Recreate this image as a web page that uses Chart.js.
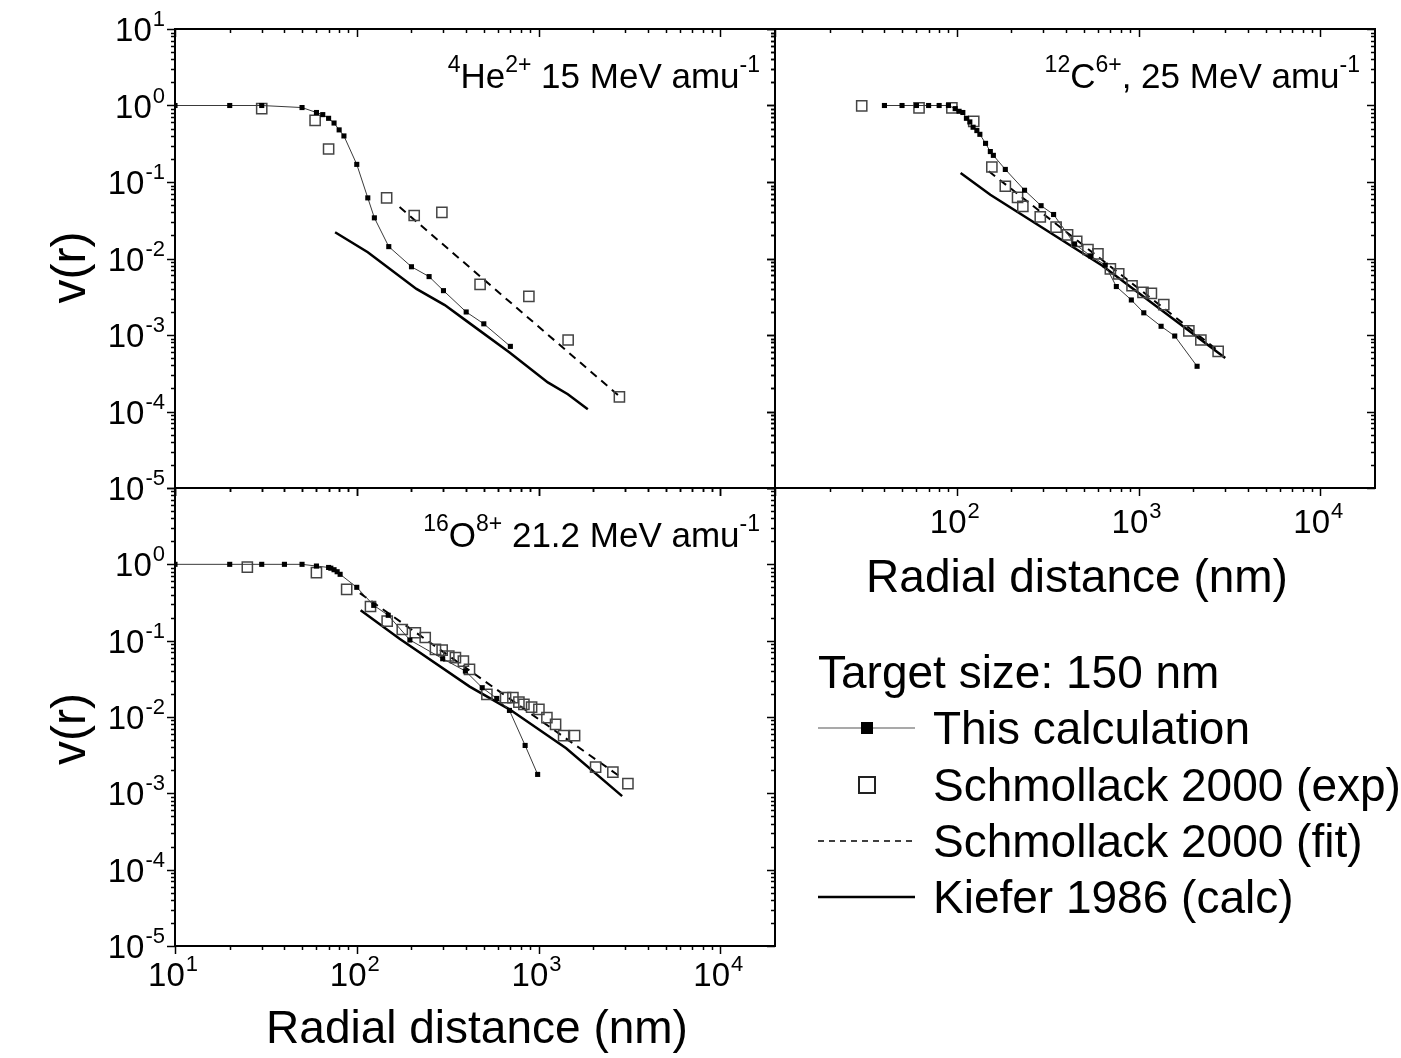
<!DOCTYPE html>
<html>
<head>
<meta charset="utf-8">
<script src="https://cdn.jsdelivr.net/npm/chart.js@4.4.1/dist/chart.umd.min.js"></script>
<style>
  body { margin: 0; background: #fff; }
  #wrap { position: relative; width: 1401px; height: 1058px; }
  #wrap canvas { position: absolute; left: 0; top: 0; }
</style>
</head>
<body>
<div id="wrap">
  <canvas id="pHe" width="1401" height="1058"></canvas>
  <canvas id="pC" width="1401" height="1058"></canvas>
  <canvas id="pO" width="1401" height="1058"></canvas>
</div>
<script>
// --- data (x: radial distance in nm, y: v(r)) ---
// 4He2+ 15 MeV/amu
const heCalcX = [10, 20, 30, 50, 60, 65, 70, 75, 80, 85, 100, 115, 125, 150, 200, 250, 300, 400, 500, 700];
const heCalcY = [1, 1, 1, 0.94, 0.81, 0.76, 0.68, 0.59, 0.48, 0.40, 0.17, 0.062, 0.034, 0.0143, 0.0078, 0.0058, 0.0038, 0.0020, 0.0014, 0.00071];
const heExpX = [30, 59, 70, 146, 207, 294, 477, 885, 1455, 2786];
const heExpY = [0.91, 0.64, 0.27, 0.062, 0.0365, 0.040, 0.0046, 0.0032, 0.00086, 0.000155];
const heFitX = [172, 2790];
const heFitY = [0.047, 0.000158];
const heKiefX = [76, 115, 213, 305, 401, 693, 1125, 1450, 1867];
const heKiefY = [0.022, 0.0121, 0.0040, 0.00246, 0.00153, 0.00059, 0.00024, 0.000168, 0.000107];

// 12C6+ 25 MeV/amu
const cCalcX = [40, 50, 60, 70, 80, 90, 98, 103, 108, 113, 118, 123, 129, 134, 144, 153, 159, 185, 236, 291, 341, 445, 545, 656, 755, 913, 1069, 1331, 1582, 2100];
const cCalcY = [1, 1, 1, 1, 1, 1, 0.91, 0.84, 0.81, 0.68, 0.61, 0.52, 0.47, 0.42, 0.32, 0.25, 0.223, 0.146, 0.078, 0.049, 0.0376, 0.0155, 0.0108, 0.0082, 0.0043, 0.00287, 0.00195, 0.0013, 0.00097, 0.00039];
const cExpX = [30, 62, 94, 124, 156, 185, 216, 231, 288, 352, 407, 457, 527, 598, 700, 778, 921, 1058, 1177, 1377, 1892, 2203, 2742];
const cExpY = [0.99, 0.93, 0.93, 0.62, 0.157, 0.088, 0.063, 0.048, 0.035, 0.0257, 0.0204, 0.0167, 0.0131, 0.0115, 0.0073, 0.0063, 0.0044, 0.0036, 0.0035, 0.0025, 0.00113, 0.00086, 0.00061];
const cFitX = [150, 2750];
const cFitY = [0.138, 0.00062];
const cKiefX = [105, 153, 630, 3000];
const cKiefY = [0.131, 0.068, 0.0081, 0.0005];

// 16O8+ 21.2 MeV/amu
const oCalcX = [10, 20, 30, 40, 50, 60, 70, 72, 75, 78, 81, 100, 124, 149, 196, 297, 396, 490, 589, 692, 844, 989];
const oCalcY = [1, 1, 1, 1, 1, 0.95, 0.91, 0.89, 0.85, 0.80, 0.74, 0.50, 0.29, 0.215, 0.102, 0.058, 0.040, 0.0242, 0.0175, 0.0122, 0.00424, 0.00177];
const oExpX = [25, 60, 88, 119, 147, 178, 210, 238, 271, 295, 321, 349, 386, 417, 520, 659, 723, 780, 831, 916, 1005, 1112, 1241, 1374, 1579, 2061, 2565, 3103];
const oExpY = [0.92, 0.78, 0.47, 0.28, 0.18, 0.14, 0.127, 0.11, 0.077, 0.075, 0.063, 0.060, 0.054, 0.042, 0.0198, 0.0179, 0.0179, 0.0157, 0.0146, 0.0135, 0.0126, 0.0098, 0.0080, 0.0057, 0.0057, 0.0022, 0.0019, 0.00134];
const oFitX = [104, 2786];
const oFitY = [0.42, 0.00168];
const oKiefX = [105, 172, 418, 692, 1419, 2884];
const oKiefY = [0.25, 0.106, 0.025, 0.0126, 0.0039, 0.00092];

// axis ranges and decade labels (exponents of 10)
const xMin = 10, xMax = 20000;
const yMin = 1e-5, yMax = 10;
const xDecades = [1, 2, 3, 4];
const yDecades = [1, 0, -1, -2, -3, -4, -5];

const legendTitle = 'Target size: 150 nm';
const seriesNames = ['This calculation', 'Schmollack 2000 (exp)', 'Schmollack 2000 (fit)', 'Kiefer 1986 (calc)'];
const axisTitleX = 'Radial distance (nm)';
const axisTitleY = 'v(r)';

const FONT = '"Liberation Sans", Arial, Helvetica, sans-serif';

function pts(xs, ys) {
  return xs.map((x, i) => ({ x: x, y: ys[i] }));
}

function makeDatasets(cx, cy, ex, ey, fx, fy, kx, ky) {
  return [
    { label: seriesNames[0], data: pts(cx, cy), showLine: true, borderColor: '#3a3a3a', borderWidth: 1,
      pointStyle: 'rect', pointRadius: 3.6, pointBackgroundColor: '#000', pointBorderWidth: 0 },
    { label: seriesNames[1], data: pts(ex, ey), showLine: false, pointStyle: 'rect', pointRadius: 7.2,
      pointBackgroundColor: 'rgba(255,255,255,0)', pointBorderColor: '#444', pointBorderWidth: 1.5 },
    { label: seriesNames[2], data: pts(fx, fy), showLine: true, borderColor: '#000', borderWidth: 2,
      borderDash: [8, 6], pointRadius: 0 },
    { label: seriesNames[3], data: pts(kx, ky), showLine: true, borderColor: '#000', borderWidth: 2.5,
      pointRadius: 0 }
  ];
}

function line(ctx, x1, y1, x2, y2) {
  ctx.beginPath(); ctx.moveTo(x1, y1); ctx.lineTo(x2, y2); ctx.stroke();
}

// "10" with a superscript exponent
function powLabel(ctx, e, x, y, align) {
  ctx.font = '33px ' + FONT;
  const wb = ctx.measureText('10').width;
  ctx.font = '22px ' + FONT;
  const ws = ctx.measureText(String(e)).width;
  const w = wb + 1 + ws;
  const x0 = align === 'right' ? x - w : (align === 'center' ? x - w / 2 - 2 : x);
  ctx.textAlign = 'left';
  ctx.textBaseline = 'alphabetic';
  ctx.font = '33px ' + FONT;
  ctx.fillText('10', x0, y);
  ctx.font = '22px ' + FONT;
  ctx.fillText(String(e), x0 + wb + 1, y - 15);
}

// text with superscript parts, right aligned at xr
function richText(ctx, parts, xr, y) {
  ctx.textAlign = 'left';
  ctx.textBaseline = 'alphabetic';
  let w = 0;
  parts.forEach(p => {
    ctx.font = (p.sup ? '23px ' : '35px ') + FONT;
    p.w = ctx.measureText(p.t).width;
    w += p.w;
  });
  let x = xr - w;
  parts.forEach(p => {
    ctx.font = (p.sup ? '23px ' : '35px ') + FONT;
    ctx.fillText(p.t, x, p.sup ? y - 16 : y);
    x += p.w;
  });
}

const framePlugin = {
  id: 'frame',
  afterDraw(chart, args, o) {
    const ctx = chart.ctx, a = chart.chartArea;
    const xs = chart.scales.x, ys = chart.scales.y;
    ctx.save();
    ctx.fillStyle = '#000';
    ctx.strokeStyle = '#000';
    ctx.lineWidth = 2;
    ctx.strokeRect(a.left, a.top, a.right - a.left, a.bottom - a.top);
    ctx.lineWidth = 1.5;
    // y ticks: out on the left, in on the right
    for (let e = -5; e <= 1; e++) {
      for (let d = 1; d <= 9; d++) {
        const v = d * Math.pow(10, e);
        if (v < yMin * 0.999 || v > yMax * 1.001) continue;
        const py = Math.round(ys.getPixelForValue(v)) + 0.5;
        const len = d === 1 ? 8 : 4;
        line(ctx, a.left - len, py, a.left, py);
        line(ctx, a.right - len, py, a.right, py);
      }
    }
    // x ticks: out at the bottom, in at the top
    for (let e = 1; e <= 4; e++) {
      for (let d = 1; d <= 9; d++) {
        const v = d * Math.pow(10, e);
        if (v < xMin * 0.999 || v > xMax * 0.999) continue;
        const px = Math.round(xs.getPixelForValue(v)) + 0.5;
        const len = d === 1 ? 8 : 4;
        line(ctx, px, a.bottom, px, a.bottom + len);
        line(ctx, px, a.top, px, a.top + len);
      }
    }
    if (o.yLabels) {
      o.yLabels.forEach(e => powLabel(ctx, e, a.left - 10, ys.getPixelForValue(Math.pow(10, e)) + 12, 'right'));
    }
    if (o.xLabels) {
      o.xLabels.forEach(e => powLabel(ctx, e, xs.getPixelForValue(Math.pow(10, e)), a.bottom + o.xLabelOff, 'center'));
    }
    if (o.note) richText(ctx, o.note, a.right - 15, a.top + 59);
    if (o.xTitle) {
      ctx.font = '46px ' + FONT;
      ctx.textAlign = 'center';
      ctx.textBaseline = 'alphabetic';
      ctx.fillText(axisTitleX, (a.left + a.right) / 2 + 2, a.bottom + o.xTitle);
    }
    if (o.yTitle) {
      ctx.save();
      ctx.translate(72, (a.top + a.bottom) / 2 + o.yTitle);
      ctx.rotate(-Math.PI / 2);
      ctx.font = '48px ' + FONT;
      ctx.textAlign = 'center';
      ctx.textBaseline = 'middle';
      ctx.fillText(axisTitleY, 0, 0);
      ctx.restore();
    }
    if (o.legend) drawLegend(ctx);
    ctx.restore();
  }
};

function drawLegend(ctx) {
  ctx.fillStyle = '#000';
  ctx.strokeStyle = '#000';
  ctx.font = '46px ' + FONT;
  ctx.textAlign = 'left';
  ctx.textBaseline = 'alphabetic';
  ctx.fillText(legendTitle, 818, 688);
  const rows = [744, 801, 857, 913];
  const x1 = 818, x2 = 915, xm = 867;
  seriesNames.forEach((name, i) => {
    const base = rows[i];
    const my = base - 16;
    ctx.font = '46px ' + FONT;
    ctx.fillText(name, 933, base);
    if (i === 0) {
      ctx.strokeStyle = '#555'; ctx.lineWidth = 1.2; ctx.setLineDash([]);
      line(ctx, x1, my, x2, my);
      ctx.fillRect(xm - 6, my - 6, 12, 12);
    } else if (i === 1) {
      ctx.strokeStyle = '#222'; ctx.lineWidth = 2; ctx.setLineDash([]);
      ctx.strokeRect(xm - 8, my - 8, 16, 16);
    } else if (i === 2) {
      ctx.strokeStyle = '#000'; ctx.lineWidth = 1.5; ctx.setLineDash([6, 5]);
      line(ctx, x1, my, x2, my);
      ctx.setLineDash([]);
    } else {
      ctx.strokeStyle = '#000'; ctx.lineWidth = 2.5; ctx.setLineDash([]);
      line(ctx, x1, my, x2, my);
    }
  });
}

function makeChart(id, area, datasets, frame) {
  return new Chart(document.getElementById(id), {
    type: 'scatter',
    data: { datasets: datasets },
    options: {
      responsive: false,
      animation: false,
      events: [],
      layout: { padding: { left: area[0], top: area[1], right: 1401 - area[2], bottom: 1058 - area[3] } },
      plugins: { legend: { display: false }, tooltip: { enabled: false }, frame: frame },
      scales: {
        x: { type: 'logarithmic', min: xMin, max: xMax, display: false },
        y: { type: 'logarithmic', min: yMin, max: yMax, display: false }
      }
    },
    plugins: [framePlugin]
  });
}

makeChart('pHe', [175, 29, 775, 488],
  makeDatasets(heCalcX, heCalcY, heExpX, heExpY, heFitX, heFitY, heKiefX, heKiefY),
  { yLabels: yDecades, yTitle: 9,
    note: [{ t: '4', sup: true }, { t: 'He' }, { t: '2+', sup: true }, { t: ' 15 MeV amu' }, { t: '-1', sup: true }] });

makeChart('pC', [775, 29, 1375, 488],
  makeDatasets(cCalcX, cCalcY, cExpX, cExpY, cFitX, cFitY, cKiefX, cKiefY),
  { xLabels: xDecades.slice(1), xLabelOff: 45, xTitle: 104,
    note: [{ t: '12', sup: true }, { t: 'C' }, { t: '6+', sup: true }, { t: ', 25 MeV amu' }, { t: '-1', sup: true }] });

makeChart('pO', [175, 488, 775, 946],
  makeDatasets(oCalcX, oCalcY, oExpX, oExpY, oFitX, oFitY, oKiefX, oKiefY),
  { yLabels: yDecades.slice(1), xLabels: xDecades, xLabelOff: 40, xTitle: 97, yTitle: 12, legend: true,
    note: [{ t: '16', sup: true }, { t: 'O' }, { t: '8+', sup: true }, { t: ' 21.2 MeV amu' }, { t: '-1', sup: true }] });
</script>
</body>
</html>
